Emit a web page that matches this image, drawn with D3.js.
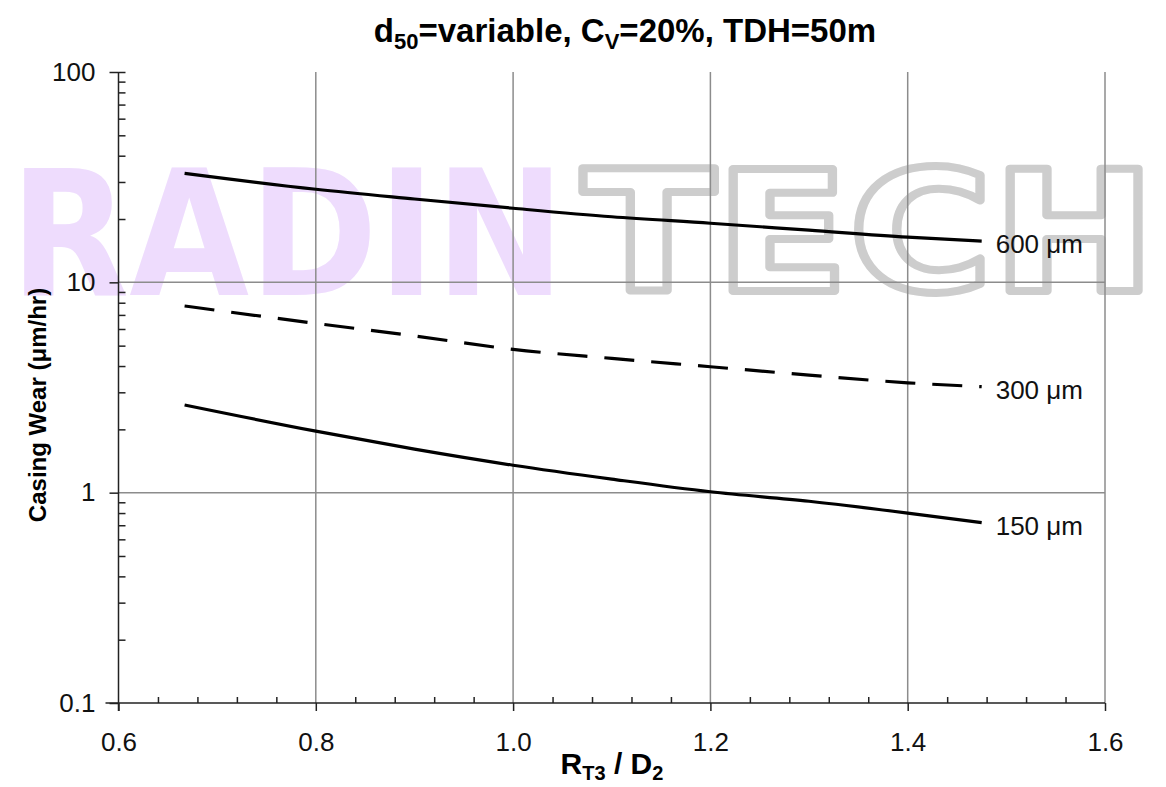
<!DOCTYPE html>
<html>
<head>
<meta charset="utf-8">
<title>Casing Wear vs RT3/D2</title>
<script src="https://d3js.org/d3.v7.min.js"></script>
<style>
    body { margin: 0; background: #fff; }
    svg { font-family: "Liberation Sans", Arial, sans-serif; }
</style>
</head>
<body>
<svg id="chart" width="1166" height="787"></svg>
<script>
    const ratios = [0.667, 0.8, 0.9, 1.0, 1.1, 1.2, 1.3, 1.4, 1.475];
    // casing wear (um/hr) for each d50
    const wear600 = [33.0, 27.7, 24.9, 22.5, 20.5, 19.1, 17.7, 16.4, 15.7];
    const wear300 = [7.72, 6.38, 5.56, 4.80, 4.35, 3.97, 3.62, 3.33, 3.19];
    const wear150 = [2.61, 1.96, 1.61, 1.35, 1.16, 1.01, 0.91, 0.80, 0.72];
    const seriesNames = ['600 μm', '300 μm', '150 μm'];
    const xTicks = [0.6, 0.8, 1.0, 1.2, 1.4, 1.6];
    const yTicks = [0.1, 1, 10, 100];

    const svg = d3.select('#chart');
    const plotLeft = 118.5, plotRight = 1105, plotTop = 72, plotBottom = 703;

    const x = d3.scaleLinear().domain([0.6, 1.6]).range([plotLeft, plotRight]);
    const y = d3.scaleLog().domain([0.1, 100]).range([plotBottom, plotTop]);

    // minor ticks: 4 between x majors, 2..9 in each decade
    const xMinor = d3.range(0.64, 1.6, 0.04).filter(v => Math.abs(v * 5 - Math.round(v * 5)) > 0.01);
    const yMinor = [];
    [0.1, 1, 10].forEach(dec => d3.range(2, 10).forEach(k => yMinor.push(dec * k)));

    // watermark
    svg.append('text')
        .attr('x', 10).attr('y', 295)
        .attr('font-family', '"DejaVu Sans", sans-serif')
        .attr('font-size', 175).attr('font-weight', 'bold')
        .attr('fill', '#eedcfd')
        .attr('textLength', 555).attr('lengthAdjust', 'spacingAndGlyphs')
        .text('RADIN');
    svg.append('text')
        .attr('x', 582).attr('y', 291)
        .attr('font-family', '"DejaVu Sans", sans-serif')
        .attr('font-size', 168).attr('font-weight', 'bold')
        .attr('fill', 'none').attr('stroke', '#cdcdcd').attr('stroke-width', 8)
        .attr('stroke-linejoin', 'round')
        .attr('textLength', 574).attr('lengthAdjust', 'spacingAndGlyphs')
        .text('TECH');

    // grid
    svg.append('g').selectAll('line')
        .data(xTicks.slice(1))
        .join('line')
        .attr('x1', d => x(d)).attr('x2', d => x(d))
        .attr('y1', plotTop).attr('y2', plotBottom)
        .attr('stroke', '#8c8c8c').attr('stroke-width', 1.5);
    svg.append('g').selectAll('line')
        .data(yTicks.filter(d => d > 0.1 && d < 100))
        .join('line')
        .attr('x1', plotLeft).attr('x2', plotRight)
        .attr('y1', d => y(d)).attr('y2', d => y(d))
        .attr('stroke', '#8c8c8c').attr('stroke-width', 1.5);

    // axes
    const xAxis = svg.append('g')
        .attr('transform', `translate(0,${plotBottom})`)
        .call(d3.axisBottom(x).tickValues(xTicks).tickSizeInner(8).tickSizeOuter(0)
            .tickPadding(22).tickFormat(d3.format('.1f')));
    const xMinorAxis = svg.append('g')
        .attr('transform', `translate(0,${plotBottom})`)
        .call(d3.axisTop(x).tickValues(xMinor).tickSize(6).tickFormat(''));
    const yAxis = svg.append('g')
        .attr('transform', `translate(${plotLeft},0)`)
        .call(d3.axisLeft(y).tickValues(yTicks).tickSizeInner(9).tickSizeOuter(0)
            .tickPadding(14).tickFormat(d3.format('~g')));
    const yMinorAxis = svg.append('g')
        .attr('transform', `translate(${plotLeft},0)`)
        .call(d3.axisRight(y).tickValues(yMinor.concat([100])).tickSize(7).tickFormat(''));

    [xAxis, xMinorAxis, yAxis, yMinorAxis].forEach(g => {
        g.attr('font-family', null).attr('font-size', null);
        g.select('.domain').remove();
        g.selectAll('.tick line').attr('stroke', '#222').attr('stroke-width', 1.5);
        g.selectAll('.tick text').attr('font-size', 26).attr('fill', '#111');
    });

    // axis lines
    svg.append('line')
        .attr('x1', plotLeft - 13).attr('x2', plotRight)
        .attr('y1', plotBottom).attr('y2', plotBottom)
        .attr('stroke', '#222').attr('stroke-width', 1.5);
    svg.append('line')
        .attr('x1', plotLeft).attr('x2', plotLeft)
        .attr('y1', plotTop).attr('y2', plotBottom + 8)
        .attr('stroke', '#222').attr('stroke-width', 1.5);

    // curves
    const line = d3.line()
        .x((d, i) => x(ratios[i]))
        .y(d => y(d))
        .curve(d3.curveMonotoneX);

    const series = [wear600, wear300, wear150];
    series.forEach((vals, i) => {
        svg.append('path')
            .attr('d', line(vals))
            .attr('fill', 'none')
            .attr('stroke', '#000')
            .attr('stroke-width', 3.2)
            .attr('stroke-dasharray', i === 1 ? '30,17' : null);
        svg.append('text')
            .attr('x', x(ratios[ratios.length - 1]) + 14)
            .attr('y', y(vals[vals.length - 1]) + 3)
            .attr('dy', '0.35em')
            .attr('font-size', 26)
            .attr('fill', '#111')
            .text(seriesNames[i]);
    });

    // title
    const title = svg.append('text')
        .attr('x', 625).attr('y', 42)
        .attr('text-anchor', 'middle')
        .attr('font-size', 33).attr('font-weight', 'bold');
    title.append('tspan').text('d');
    title.append('tspan').attr('dy', 7).attr('font-size', 22).text('50');
    title.append('tspan').attr('dy', -7).text('=variable, C');
    title.append('tspan').attr('dy', 7).attr('font-size', 22).text('V');
    title.append('tspan').attr('dy', -7).text('=20%, TDH=50m');

    // axis titles
    const xLabel = svg.append('text')
        .attr('x', 612).attr('y', 774)
        .attr('text-anchor', 'middle')
        .attr('font-size', 30).attr('font-weight', 'bold');
    xLabel.append('tspan').text('R');
    xLabel.append('tspan').attr('dy', 6).attr('font-size', 20).text('T3');
    xLabel.append('tspan').attr('dy', -6).text(' / D');
    xLabel.append('tspan').attr('dy', 6).attr('font-size', 20).text('2');

    svg.append('text')
        .attr('transform', 'translate(46,405) rotate(-90)')
        .attr('text-anchor', 'middle')
        .attr('font-size', 24).attr('font-weight', 'bold')
        .text('Casing Wear (μm/hr)');
</script>
</body>
</html>
